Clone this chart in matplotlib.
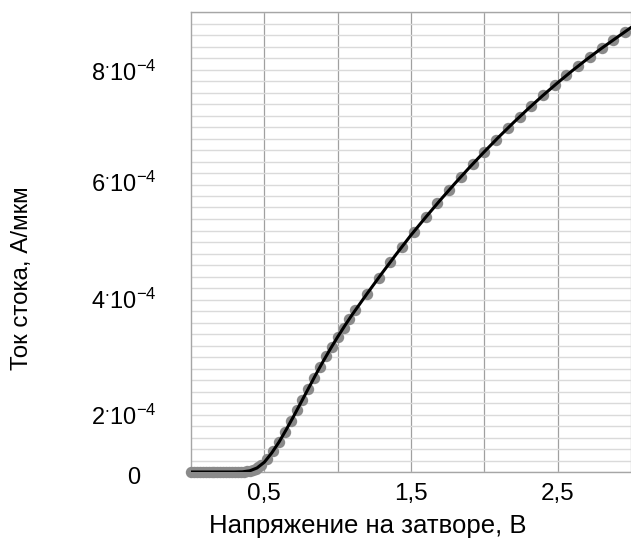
import matplotlib
matplotlib.use("Agg")
import matplotlib.pyplot as plt
from matplotlib.ticker import MultipleLocator
from matplotlib.transforms import offset_copy

plt.rcParams["font.family"] = ["Liberation Sans", "DejaVu Sans"]
plt.rcParams["mathtext.fontset"] = "custom"
plt.rcParams["mathtext.rm"] = "Liberation Sans"
plt.rcParams["mathtext.it"] = "Liberation Sans:italic"
plt.rcParams["mathtext.bf"] = "Liberation Sans:bold"
plt.rcParams["mathtext.default"] = "regular"

# измеренные точки (маркеры): напряжение на затворе, В и ток стока, А/мкм
vg_points = [0.00, 0.02, 0.04, 0.06, 0.08, 0.10, 0.12, 0.14, 0.16, 0.18,
             0.20, 0.22, 0.24, 0.26, 0.28, 0.30, 0.32, 0.34, 0.36, 0.38,
             0.40, 0.42, 0.44, 0.46, 0.48, 0.52, 0.56, 0.60, 0.64, 0.68,
             0.72, 0.76, 0.80, 0.84, 0.88, 0.92, 0.96, 1.00, 1.04, 1.08,
             1.12, 1.20, 1.28, 1.36, 1.44, 1.52, 1.60, 1.68, 1.76, 1.84,
             1.92, 2.00, 2.08, 2.16, 2.24, 2.32, 2.40, 2.48, 2.56, 2.64,
             2.72, 2.80, 2.88, 2.96]
id_points = [0.0, 0.0, 0.0, 0.0, 0.0, 0.0, 0.0, 0.0, 0.0, 0.0,
             0.0, 0.0, 0.0, 0.0, 0.0, 0.0, 0.0, 0.0, 0.0, 0.01e-4,
             0.02e-4, 0.04e-4, 0.06e-4, 0.09e-4, 0.13e-4, 0.23e-4, 0.37e-4, 0.52e-4, 0.70e-4, 0.88e-4,
             1.07e-4, 1.26e-4, 1.45e-4, 1.64e-4, 1.83e-4, 2.01e-4, 2.18e-4, 2.35e-4, 2.51e-4, 2.66e-4,
             2.81e-4, 3.10e-4, 3.38e-4, 3.65e-4, 3.92e-4, 4.18e-4, 4.43e-4, 4.67e-4, 4.90e-4, 5.13e-4,
             5.35e-4, 5.57e-4, 5.78e-4, 5.98e-4, 6.18e-4, 6.37e-4, 6.55e-4, 6.73e-4, 6.90e-4, 7.06e-4,
             7.22e-4, 7.37e-4, 7.51e-4, 7.66e-4]

# расчётная кривая
vg_model = [0.00, 0.30, 0.35, 0.40, 0.45, 0.50, 0.55, 0.60, 0.65, 0.70,
            0.75, 0.80, 0.85, 0.90, 0.95, 1.00, 1.05, 1.10, 1.15, 1.20,
            1.30, 1.40, 1.50, 1.60, 1.70, 1.80, 1.90, 2.00, 2.10, 2.20,
            2.30, 2.40, 2.50, 2.60, 2.70, 2.80, 2.90, 3.00]
id_model = [0.0, 0.0, 0.003e-4, 0.02e-4, 0.07e-4, 0.17e-4, 0.33e-4, 0.52e-4, 0.74e-4, 0.97e-4,
            1.21e-4, 1.45e-4, 1.69e-4, 1.92e-4, 2.14e-4, 2.35e-4, 2.55e-4, 2.74e-4, 2.92e-4, 3.10e-4,
            3.45e-4, 3.79e-4, 4.12e-4, 4.43e-4, 4.73e-4, 5.02e-4, 5.30e-4, 5.57e-4, 5.83e-4, 6.08e-4,
            6.32e-4, 6.55e-4, 6.77e-4, 6.98e-4, 7.18e-4, 7.37e-4, 7.55e-4, 7.73e-4]

x_ticks = [0.5, 1.0, 1.5, 2.0, 2.5, 3.0]
x_labels = ["0,5", "", "1,5", "", "2,5", ""]
# подписи оси тока стоят так же, как на исходном рисунке
y_label_pos = [-0.07e-4, 0.96e-4, 2.99e-4, 5.01e-4, 6.95e-4]
y_labels = ["0", r"$2^{\cdot}10^{-4}$", r"$4^{\cdot}10^{-4}$",
            r"$6^{\cdot}10^{-4}$", r"$8^{\cdot}10^{-4}$"]

fig = plt.figure(figsize=(6.31, 5.42), dpi=100)
ax = fig.add_axes([191 / 631, 70 / 542, 440 / 631, 460 / 542])

ax.plot(vg_points, id_points, "o", color="#8a8a8a", markersize=8.2,
        markeredgewidth=0, zorder=3, clip_on=False)
ax.plot(vg_model, id_model, color="black", linewidth=2.2, zorder=4)

ax.set_xlim(0, 3)
ax.set_ylim(0, 8e-4)

ax.set_xticks(x_ticks)
ax.set_xticklabels(x_labels, fontsize=17.5)
ax.set_yticks([])
ax.yaxis.set_minor_locator(MultipleLocator(2e-5))
ax.tick_params(axis="both", which="both", length=0)
ax.tick_params(axis="x", pad=8)

ax.grid(axis="x", which="major", color="#a0a0a0", linewidth=0.9)
ax.grid(axis="y", which="minor", color="#dadada", linewidth=1.0)
ax.set_axisbelow(True)

for side in ["left", "bottom", "top"]:
    ax.spines[side].set_color("#a6a6a6")
    ax.spines[side].set_linewidth(1.0)
ax.spines["right"].set_visible(False)

trans = offset_copy(ax.get_yaxis_transform(), fig=fig, y=-6.1, units="points")
for pos, txt in zip(y_label_pos, y_labels):
    x = -0.116 if txt == "0" else -0.077
    ax.text(x, pos, txt, transform=trans, ha="right", va="baseline",
            fontsize=17, clip_on=False)

fig.text(368 / 631, 1 - 533 / 542, "Напряжение на затворе, В",
         ha="center", va="baseline", fontsize=18.5)
fig.text(22 / 631, 1 - 278 / 542, "Ток стока, А/мкм",
         ha="center", va="center", rotation=90, fontsize=17.4)

fig.savefig("out.png", dpi=100)
